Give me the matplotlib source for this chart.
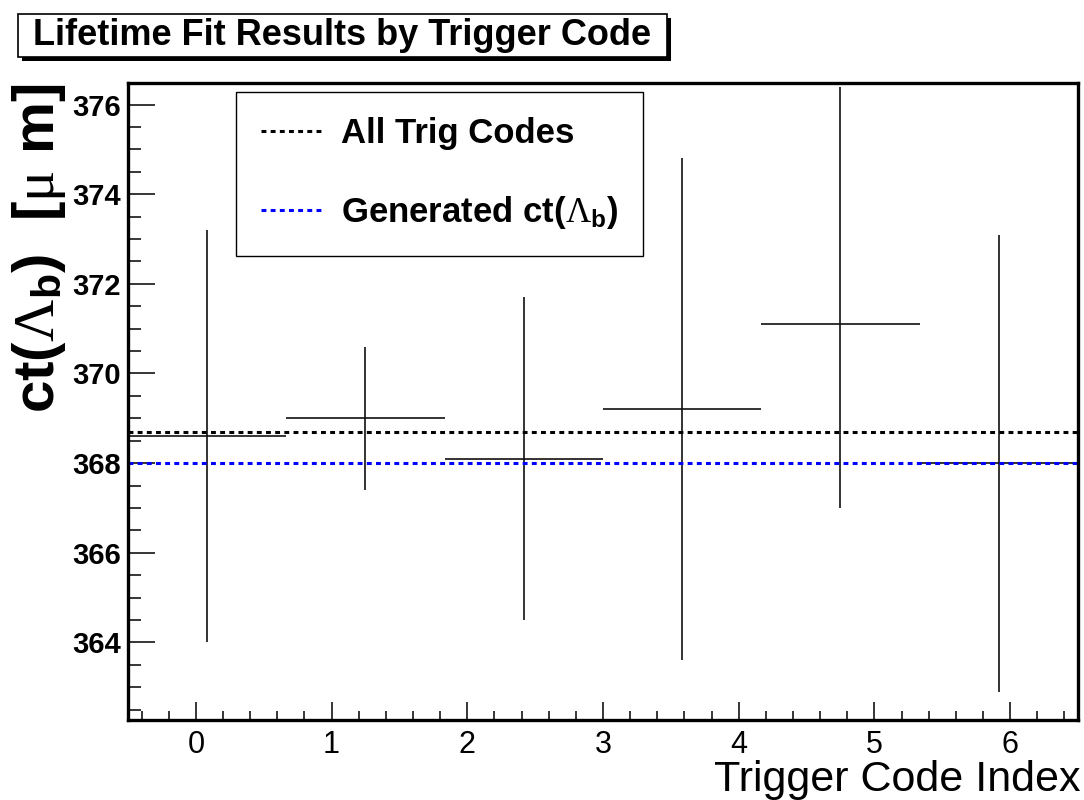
import matplotlib.pyplot as plt
import numpy as np
from matplotlib.patches import Rectangle
from matplotlib.ticker import MultipleLocator

plt.rcParams['font.family'] = ['Liberation Sans', 'DejaVu Sans']
plt.rcParams['mathtext.fontset'] = 'custom'
plt.rcParams['mathtext.rm'] = 'Liberation Serif'
plt.rcParams['mathtext.it'] = 'Liberation Serif'
plt.rcParams['mathtext.bf'] = 'Liberation Sans:bold'

# histogram binning (6 bins on -0.5 .. 6.5)
x_lo, x_hi, n_bins = -0.5, 6.5, 6
ct_vals = [368.6, 369.0, 368.1, 369.2, 371.1, 368.0]
err_lo = [4.6, 1.6, 3.6, 5.6, 4.1, 5.1]
err_hi = [4.6, 1.6, 3.6, 5.6, 5.3, 5.1]
all_codes_fit = 368.7
generated_ct = 368.0

edges = np.linspace(x_lo, x_hi, n_bins + 1)
centers = 0.5 * (edges[:-1] + edges[1:])
half_w = 0.5 * (edges[1] - edges[0])

fig = plt.figure(figsize=(10.84, 8), dpi=100)
ax = fig.add_axes([128/1084, 80/800, 950/1084, 637/800])

ax.errorbar(centers, ct_vals, yerr=[err_lo, err_hi], xerr=half_w,
            fmt='none', ecolor='#111111', elinewidth=1.2, capsize=0)

l1 = ax.axhline(all_codes_fit, color='black', lw=2.2, dashes=(1.6, 1.4),
                label='All Trig Codes')
l2 = ax.axhline(generated_ct, color='#0000ff', lw=2.2, dashes=(1.6, 1.4),
                label=r'Generated ct($\Lambda_{\mathbf{b}}$)')

ax.set_xlim(x_lo, x_hi)
ax.set_ylim(362.27, 376.48)

ax.xaxis.set_major_locator(MultipleLocator(1))
ax.xaxis.set_minor_locator(MultipleLocator(0.2))
ax.yaxis.set_major_locator(MultipleLocator(2))
ax.yaxis.set_minor_locator(MultipleLocator(0.5))

for s in ax.spines.values():
    s.set_linewidth(2.4)

ax.tick_params(axis='y', which='major', direction='in', length=19.5, width=1.1,
               pad=5, labelsize=21)
ax.tick_params(axis='y', which='minor', direction='in', length=9.7, width=1.1)
ax.tick_params(axis='x', which='major', direction='in', length=13, width=1.1,
               pad=7, labelsize=22)
ax.tick_params(axis='x', which='minor', direction='in', length=6.5, width=1.1)
for t in ax.get_yticklabels():
    t.set_fontweight('bold')

leg = ax.legend(handles=[l1, l2], loc='upper left',
                bbox_to_anchor=(236/1084, 1 - 92/800),
                bbox_transform=fig.transFigure, borderaxespad=0,
                prop={'size': 25, 'weight': 'bold'}, fancybox=False,
                edgecolor='black', framealpha=1, borderpad=0.72,
                labelspacing=1.27, handlelength=1.85, handletextpad=0.45)
leg.get_frame().set_linewidth(1.0)

# x axis title, right aligned at the figure edge
fig.text(1080/1084, 9/800, 'Trigger Code Index', ha='right', va='baseline',
         fontsize=31)

# y axis title
fig.text(39/1084, 1 - 84/800, r'ct($\Lambda_{\mathbf{b}}$)  [$\mu$ m]',
         rotation=90, ha='center', va='top', fontsize=42, fontweight='bold')

# title pave with shadow
fig.patches.append(Rectangle((22/1084, 1 - 61/800), 649/1084, 43/800,
                             transform=fig.transFigure, facecolor='black',
                             edgecolor='black', lw=0))
fig.patches.append(Rectangle((18/1084, 1 - 57/800), 649/1084, 43/800,
                             transform=fig.transFigure, facecolor='white',
                             edgecolor='black', lw=1.2))
fig.text(342/1084, 1 - 35.5/800, 'Lifetime Fit Results by Trigger Code',
         ha='center', va='center', fontsize=26, fontweight='bold')

fig.savefig('out.png', dpi=100)
